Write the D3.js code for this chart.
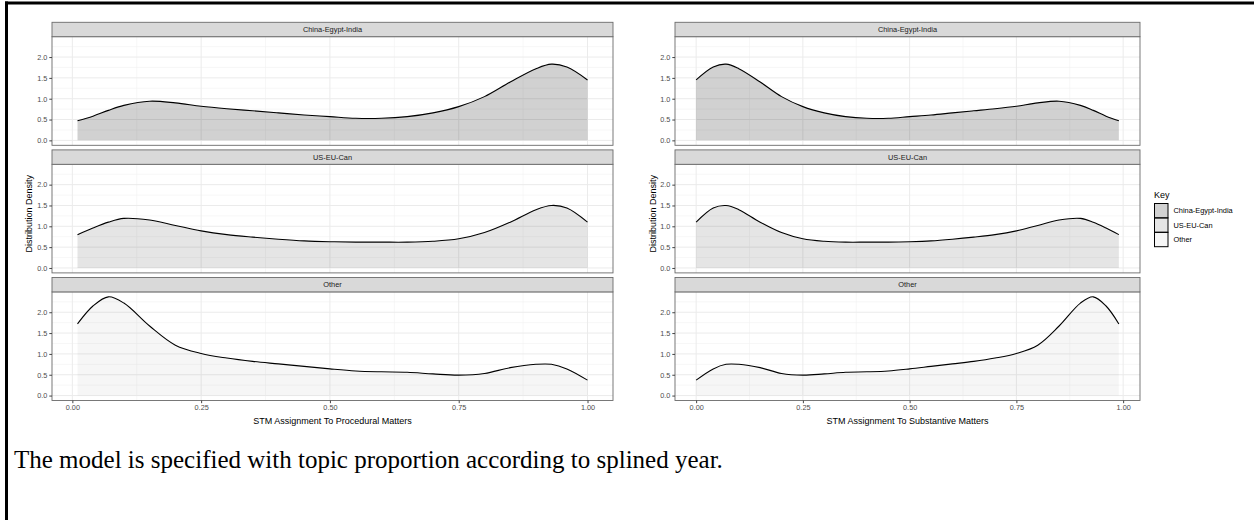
<!DOCTYPE html>
<html>
<head>
<meta charset="utf-8">
<script src="https://cdn.jsdelivr.net/npm/d3@7"></script>
<style>
  body { margin: 0; background: #fff; }
  svg { display: block; }
</style>
</head>
<body>
<div id="chart"></div>
<script>
const WIDTH = 1254;
const HEIGHT = 520;
const FONT = "'Liberation Sans', Arial, Helvetica, sans-serif";

// facet groups (top to bottom)
const groups = ["China-Egypt-India", "US-EU-Can", "Other"];

// procedural matters: density
const procX = [0.01, 0.04, 0.07, 0.10, 0.15, 0.20, 0.25, 0.30, 0.35, 0.40, 0.45, 0.50, 0.55, 0.60, 0.65, 0.70, 0.75, 0.80, 0.85, 0.90, 0.93, 0.96, 1.00];
const procChina = [0.47, 0.58, 0.72, 0.84, 0.94, 0.90, 0.82, 0.76, 0.71, 0.66, 0.61, 0.57, 0.53, 0.53, 0.57, 0.66, 0.81, 1.05, 1.40, 1.72, 1.83, 1.76, 1.45];
const procUS = [0.80, 0.96, 1.10, 1.19, 1.15, 1.02, 0.89, 0.80, 0.74, 0.69, 0.65, 0.63, 0.62, 0.62, 0.62, 0.64, 0.70, 0.85, 1.10, 1.40, 1.50, 1.44, 1.10];
const procOther = [1.72, 2.15, 2.37, 2.22, 1.67, 1.21, 1.01, 0.90, 0.82, 0.76, 0.70, 0.64, 0.59, 0.57, 0.56, 0.52, 0.49, 0.53, 0.67, 0.75, 0.75, 0.64, 0.37];

// substantive matters: density
const substX = [0.00, 0.04, 0.07, 0.10, 0.15, 0.20, 0.25, 0.30, 0.35, 0.40, 0.45, 0.50, 0.55, 0.60, 0.65, 0.70, 0.75, 0.80, 0.85, 0.90, 0.93, 0.96, 0.99];
const substChina = [1.45, 1.76, 1.83, 1.72, 1.40, 1.05, 0.81, 0.66, 0.57, 0.53, 0.53, 0.57, 0.61, 0.66, 0.71, 0.76, 0.82, 0.90, 0.94, 0.84, 0.72, 0.58, 0.47];
const substUS = [1.10, 1.44, 1.50, 1.40, 1.10, 0.85, 0.70, 0.64, 0.62, 0.62, 0.62, 0.63, 0.65, 0.69, 0.74, 0.80, 0.89, 1.02, 1.15, 1.19, 1.10, 0.96, 0.80];
const substOther = [0.37, 0.64, 0.75, 0.75, 0.67, 0.53, 0.49, 0.52, 0.56, 0.57, 0.59, 0.64, 0.70, 0.76, 0.82, 0.90, 1.01, 1.21, 1.67, 2.22, 2.37, 2.15, 1.72];

const xTicks = [0, 0.25, 0.5, 0.75, 1];
const yTicks = [0, 0.5, 1, 1.5, 2];

// grey fills, stacked over white (alpha like ggplot)
const FILL_OPACITY = { "China-Egypt-India": 0.18, "US-EU-Can": 0.10, "Other": 0.035 };

const STRIP_TOP = 22.3;
const ROW_STEP = 127.6;
const STRIP_H = 14.4;
const PANEL_H = 108.6;

const svg = d3.select("#chart").append("svg")
  .attr("width", WIDTH)
  .attr("height", HEIGHT)
  .style("font-family", FONT);

svg.append("rect").attr("width", WIDTH).attr("height", HEIGHT).attr("fill", "#fff");

const allY = [].concat(procChina, procUS, procOther, substChina, substUS, substOther);
const yMax = d3.max(allY);
const yDomain = [-0.05 * yMax, yMax * 1.05];

function expand(ext) {
  const pad = (ext[1] - ext[0]) * 0.05;
  return [ext[0] - pad, ext[1] + pad];
}

function drawPlot(opts) {
  const g = svg.append("g");
  const x = d3.scaleLinear().domain(expand(d3.extent(opts.xs))).range([opts.left, opts.right]);

  opts.series.forEach((vals, i) => {
    const group = groups[i];
    const stripTop = STRIP_TOP + i * ROW_STEP;
    const top = stripTop + STRIP_H;
    const bottom = top + PANEL_H;
    const y = d3.scaleLinear().domain(yDomain).range([bottom, top]);
    const pts = opts.xs.map((d, k) => [d, vals[k]]);

    const panel = g.append("g");
    panel.append("rect")
      .attr("x", opts.left).attr("y", top)
      .attr("width", opts.right - opts.left).attr("height", PANEL_H)
      .attr("fill", "#fff");

    // minor grid
    const xMinor = [0.125, 0.375, 0.625, 0.875];
    const yMinor = [0.25, 0.75, 1.25, 1.75, 2.25];
    panel.selectAll("line.xminor").data(xMinor).join("line")
      .attr("class", "xminor")
      .attr("x1", d => x(d)).attr("x2", d => x(d))
      .attr("y1", top).attr("y2", bottom)
      .attr("stroke", "#f2f2f2").attr("stroke-width", 0.6);
    panel.selectAll("line.yminor").data(yMinor).join("line")
      .attr("class", "yminor")
      .attr("x1", opts.left).attr("x2", opts.right)
      .attr("y1", d => y(d)).attr("y2", d => y(d))
      .attr("stroke", "#f2f2f2").attr("stroke-width", 0.6);
    // major grid
    panel.selectAll("line.xmajor").data(xTicks).join("line")
      .attr("class", "xmajor")
      .attr("x1", d => x(d)).attr("x2", d => x(d))
      .attr("y1", top).attr("y2", bottom)
      .attr("stroke", "#ebebeb").attr("stroke-width", 1);
    panel.selectAll("line.ymajor").data(yTicks).join("line")
      .attr("class", "ymajor")
      .attr("x1", opts.left).attr("x2", opts.right)
      .attr("y1", d => y(d)).attr("y2", d => y(d))
      .attr("stroke", "#ebebeb").attr("stroke-width", 1);

    const area = d3.area()
      .x(d => x(d[0])).y0(y(0)).y1(d => y(d[1]))
      .curve(d3.curveCatmullRom.alpha(0.5));
    const line = d3.line()
      .x(d => x(d[0])).y(d => y(d[1]))
      .curve(d3.curveCatmullRom.alpha(0.5));

    panel.append("path").datum(pts)
      .attr("d", area)
      .attr("fill", "#000")
      .attr("fill-opacity", FILL_OPACITY[group]);
    panel.append("path").datum(pts)
      .attr("d", line)
      .attr("fill", "none")
      .attr("stroke", "#000")
      .attr("stroke-width", 1.1);

    panel.append("rect")
      .attr("x", opts.left).attr("y", top)
      .attr("width", opts.right - opts.left).attr("height", PANEL_H)
      .attr("fill", "none").attr("stroke", "#6b6b6b").attr("stroke-width", 0.9);

    // strip
    panel.append("rect")
      .attr("x", opts.left).attr("y", stripTop)
      .attr("width", opts.right - opts.left).attr("height", STRIP_H)
      .attr("fill", "#d9d9d9").attr("stroke", "#6b6b6b").attr("stroke-width", 0.9);
    panel.append("text")
      .attr("x", (opts.left + opts.right) / 2).attr("y", stripTop + STRIP_H / 2 + 2.6)
      .attr("text-anchor", "middle")
      .attr("font-size", 7.4).attr("fill", "#1a1a1a")
      .text(group);

    // y axis
    const yAxis = panel.append("g")
      .attr("transform", `translate(${opts.left},0)`)
      .call(d3.axisLeft(y).tickValues(yTicks).tickFormat(d3.format(".1f")).tickSize(2.7).tickPadding(2));
    yAxis.select(".domain").remove();
    yAxis.selectAll("line").attr("stroke", "#444");
    yAxis.selectAll("text").attr("font-size", 7.3).attr("fill", "#4d4d4d").attr("font-family", FONT);

    if (i === groups.length - 1) {
      const xAxis = panel.append("g")
        .attr("transform", `translate(0,${bottom})`)
        .call(d3.axisBottom(x).tickValues(xTicks).tickFormat(d3.format(".2f")).tickSize(2.7).tickPadding(2));
      xAxis.select(".domain").remove();
      xAxis.selectAll("line").attr("stroke", "#444");
      xAxis.selectAll("text").attr("font-size", 7.3).attr("fill", "#4d4d4d").attr("font-family", FONT);

      g.append("text")
        .attr("x", (opts.left + opts.right) / 2).attr("y", bottom + 23)
        .attr("text-anchor", "middle")
        .attr("font-size", 9).attr("fill", "#000")
        .text(opts.xTitle);
    }
  });

  g.append("text")
    .attr("transform", `translate(${opts.yTitleX},${STRIP_TOP + ROW_STEP * 1.5}) rotate(-90)`)
    .attr("text-anchor", "middle")
    .attr("font-size", 9).attr("fill", "#000")
    .text("Distribution Density");
}

drawPlot({
  xs: procX,
  series: [procChina, procUS, procOther],
  left: 52, right: 613,
  yTitleX: 32,
  xTitle: "STM Assignment To Procedural Matters"
});

drawPlot({
  xs: substX,
  series: [substChina, substUS, substOther],
  left: 675, right: 1140,
  yTitleX: 655.5,
  xTitle: "STM Assignment To Substantive Matters"
});

// legend
const legend = svg.append("g").attr("transform", "translate(1154,0)");
legend.append("text")
  .attr("x", 0).attr("y", 197.5)
  .attr("font-size", 9).attr("fill", "#000")
  .text("Key");
legend.selectAll("rect.key").data(groups).join("rect")
  .attr("class", "key")
  .attr("x", 0.5).attr("y", (d, i) => 203.5 + i * 14.4)
  .attr("width", 13.5).attr("height", 14.4)
  .attr("fill", "#000").attr("fill-opacity", d => FILL_OPACITY[d]);
legend.selectAll("rect.keyline").data(groups).join("rect")
  .attr("class", "keyline")
  .attr("x", 0.5).attr("y", (d, i) => 203.5 + i * 14.4)
  .attr("width", 13.5).attr("height", 14.4)
  .attr("fill", "none").attr("stroke", "#000").attr("stroke-width", 1);
legend.selectAll("text.lab").data(groups).join("text")
  .attr("class", "lab")
  .attr("x", 19.5).attr("y", (d, i) => 213.4 + i * 14.4)
  .attr("font-size", 7.4).attr("fill", "#000")
  .text(d => d);

// caption
svg.append("text")
  .attr("x", 14).attr("y", 468)
  .attr("font-family", "'Liberation Serif', 'Times New Roman', serif")
  .attr("font-size", 25).attr("fill", "#000")
  .text("The model is specified with topic proportion according to splined year.");

// frame edges
svg.append("line").attr("x1", 5).attr("x2", WIDTH).attr("y1", 3).attr("y2", 3)
  .attr("stroke", "#000").attr("stroke-width", 3);
svg.append("line").attr("x1", 6.5).attr("x2", 6.5).attr("y1", 1.5).attr("y2", HEIGHT)
  .attr("stroke", "#000").attr("stroke-width", 3);
</script>
</body>
</html>
